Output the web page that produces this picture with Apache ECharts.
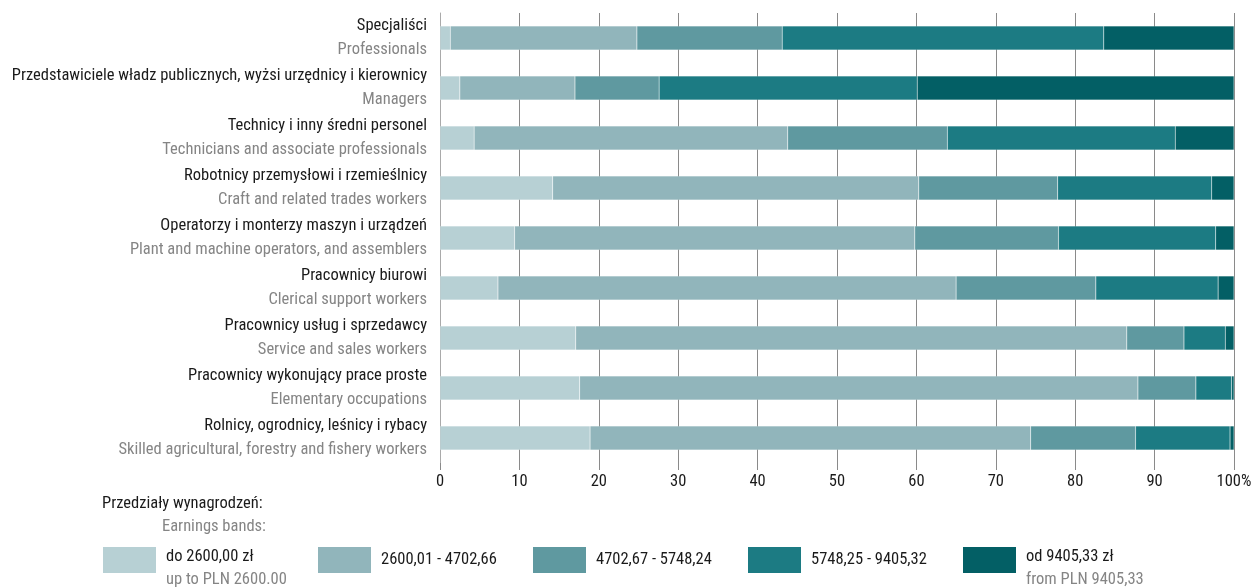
<!DOCTYPE html>
<html>
<head>
<meta charset="utf-8">
<script src="https://cdn.jsdelivr.net/npm/echarts@6/dist/echarts.min.js"></script>
<style>
  html, body { margin: 0; padding: 0; background: #fff; }
  #chart { width: 1256px; height: 587px; }
</style>
</head>
<body>
<div id="chart"></div>
<script>
// occupation groups, Polish / English
const groupsPl = [
  "Specjaliści",
  "Przedstawiciele władz publicznych, wyżsi urzędnicy i kierownicy",
  "Technicy i inny średni personel",
  "Robotnicy przemysłowi i rzemieślnicy",
  "Operatorzy i monterzy maszyn i urządzeń",
  "Pracownicy biurowi",
  "Pracownicy usług i sprzedawcy",
  "Pracownicy wykonujący prace proste",
  "Rolnicy, ogrodnicy, leśnicy i rybacy"
];
const groupsEn = [
  "Professionals",
  "Managers",
  "Technicians and associate professionals",
  "Craft and related trades workers",
  "Plant and machine operators, and assemblers",
  "Clerical support workers",
  "Service and sales workers",
  "Elementary occupations",
  "Skilled agricultural, forestry and fishery workers"
];

// earnings bands (%)
const band1 = [1.3, 2.5, 4.3, 14.2, 9.4, 7.3, 17.1, 17.6, 18.9];
const band2 = [23.5, 14.5, 39.5, 46.1, 50.4, 57.7, 69.4, 70.3, 55.5];
const band3 = [18.3, 10.6, 20.1, 17.5, 18.1, 17.6, 7.2, 7.3, 13.2];
const band4 = [40.5, 32.5, 28.7, 19.4, 19.8, 15.4, 5.2, 4.5, 11.9];
const band5 = [16.4, 39.9, 7.4, 2.8, 2.3, 2.0, 1.1, 0.3, 0.5];

const bandNames = [
  "do 2600,00 zł",
  "2600,01 - 4702,66",
  "4702,67 - 5748,24",
  "5748,25 - 9405,32",
  "od 9405,33 zł"
];
const bandSubs = ["up to PLN 2600.00", "", "", "", "from PLN 9405,33"];
const colors = ["#b7d0d4", "#91b5bb", "#5f99a0", "#1c7b83", "#035f65"];

const FONT = "Roboto Condensed";
const FS = 16.5;
const DARK = "#1a1a1a";
const GREY = "#858585";
const legendLeft = [103, 318, 533, 748, 963];

const chart = echarts.init(document.getElementById("chart"));

const categories = groupsPl.map((p, i) => p + "\n" + groupsEn[i]);

chart.setOption({
  animation: false,
  textStyle: { fontFamily: FONT },
  grid: { left: 440, right: 22, top: 13, bottom: 124 },
  title: [
    {
      text: "Przedziały wynagrodzeń:",
      left: 102, top: 495, padding: 0,
      textStyle: { fontFamily: FONT, fontSize: FS, fontWeight: "normal", color: DARK }
    },
    {
      text: "Earnings bands:",
      left: 162, top: 518, padding: 0,
      textStyle: { fontFamily: FONT, fontSize: FS, fontWeight: "normal", color: GREY }
    }
  ],
  legend: bandNames.map((name, i) => ({
    data: [name],
    left: legendLeft[i],
    top: 547,
    padding: 0,
    icon: "rect",
    itemWidth: 53,
    itemHeight: 26,
    itemStyle: { borderWidth: 0 },
    selectedMode: false,
    formatter: n => bandSubs[i] ? "{a|" + n + "}\n{b|" + bandSubs[i] + "}" : "{a|" + n + "}",
    textStyle: {
      fontFamily: FONT,
      padding: bandSubs[i] ? [17, 0, 0, 5] : [0, 0, 0, 5],
      rich: {
        a: { fontFamily: FONT, fontSize: FS, color: DARK, lineHeight: 23 },
        b: { fontFamily: FONT, fontSize: FS, color: GREY, lineHeight: 23 }
      }
    }
  })),
  xAxis: {
    type: "value",
    min: 0,
    max: 100,
    interval: 10,
    axisLine: { show: false },
    axisTick: { show: true, length: 7, lineStyle: { color: "#8a8a8a" } },
    splitLine: { show: true, lineStyle: { color: "#8a8a8a", width: 1 } },
    axisLabel: {
      fontFamily: FONT,
      fontSize: FS,
      color: DARK,
      margin: 10,
      formatter: v => (v === 100 ? "100%" : String(v))
    }
  },
  yAxis: {
    type: "category",
    inverse: true,
    data: categories,
    axisLine: { show: true, lineStyle: { color: "#aaaaaa", width: 1 } },
    axisTick: { show: false },
    axisLabel: {
      margin: 13,
      align: "right",
      formatter: v => {
        const [p, e] = v.split("\n");
        return "{p|" + p + "}\n{e|" + e + "}";
      },
      rich: {
        p: { fontFamily: FONT, fontSize: FS, color: DARK, lineHeight: 24, align: "right" },
        e: { fontFamily: FONT, fontSize: FS, color: GREY, lineHeight: 24, align: "right" }
      }
    }
  },
  series: [band1, band2, band3, band4, band5].map((d, i) => ({
    name: bandNames[i],
    type: "bar",
    stack: "total",
    data: d,
    barWidth: 24,
    itemStyle: {
      color: colors[i],
      borderColor: "rgba(255,255,255,0.25)",
      borderWidth: 0.5
    }
  }))
});
</script>
</body>
</html>
